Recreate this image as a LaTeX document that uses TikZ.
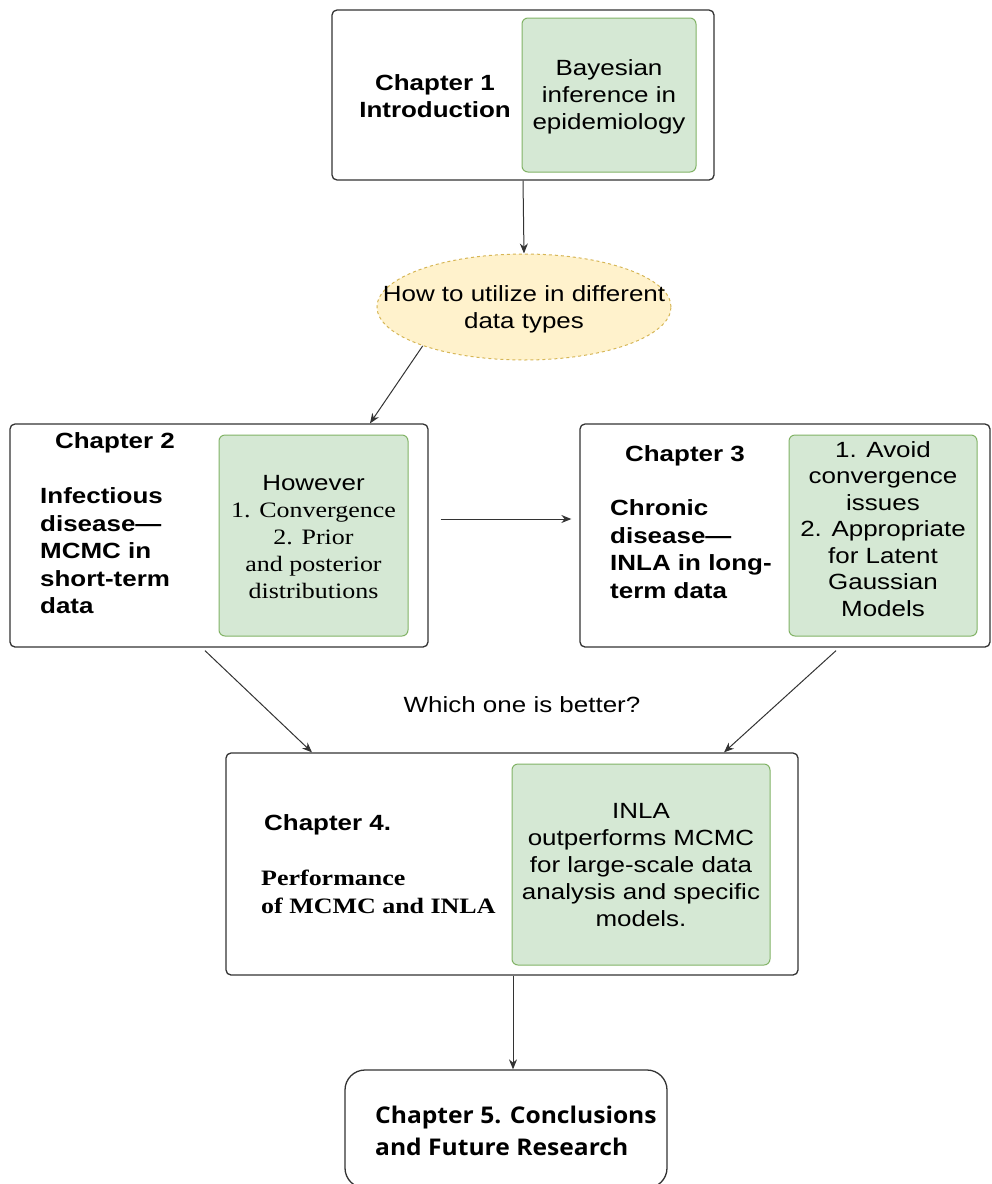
\documentclass[tikz,border=0pt]{standalone}
\usepackage{fontspec}
\usetikzlibrary{shapes.geometric,arrows.meta}
\newfontfamily\ar{Liberation Sans}[FakeStretch=1.18]
\newfontfamily\tm{Liberation Serif}[FakeStretch=1.18]
\newfontfamily\os{Open Sans}[FakeStretch=1.07]
\definecolor{gfill}{HTML}{D5E8D4}
\definecolor{gline}{HTML}{82B366}
\definecolor{yfill}{HTML}{FFF2CC}
\definecolor{yline}{HTML}{D6B656}
\definecolor{bline}{HTML}{333333}
\begin{document}
\begin{tikzpicture}[x=1pt,y=-1pt,
  chapbox/.style={draw=bline,line width=1.3pt,rounded corners=5pt,fill=white,inner sep=0pt},
  greenbox/.style={draw=gline,fill=gfill,line width=1pt,rounded corners=6pt,inner sep=0pt},
  ellbox/.style={ellipse,draw=yline,fill=yfill,dashed,line width=1pt,inner sep=0pt},
  txt/.style={inner sep=0pt,align=center,font={\ar\fontsize{22}{27}\selectfont},text=black},
  btxt/.style={inner sep=0pt,font={\ar\bfseries\fontsize{22}{27.5}\selectfont},text=black},
  arr/.style={draw=bline,line width=1pt,-{Stealth[length=10pt,width=8pt]}}]
\path[use as bounding box] (0,0) rectangle (992,1184);

% Chapter 1
\node[chapbox,minimum width=382pt,minimum height=170pt] (ch1) at (523,95) {};
\node[greenbox,minimum width=174pt,minimum height=154pt] (g1) at (609,95) {};
\node[btxt,align=center] (t1) at (435,96) {Chapter 1\\Introduction};
\node[txt] (tg1) at (609,97) {Bayesian\\inference in\\epidemiology};

% ellipse
\node[ellbox,minimum width=294pt,minimum height=106pt] (ell) at (524,307) {};
\node[txt] (tell) at (524,309) {How to utilize in different\\data types};

% Chapter 2
\node[chapbox,minimum width=418pt,minimum height=223pt] (ch2) at (219,535.5) {};
\node[greenbox,minimum width=189pt,minimum height=201pt] (g2) at (313.5,535.5) {};
\node[btxt] (t2a) at (115,443) {Chapter 2};
\node[btxt,align=left,anchor=west] (t2b) at (40,551) {Infectious\\disease—\\MCMC in\\short-term\\data};
\node[txt] (tg2) at (313.5,537) {However\\{\tm 1. Convergence}\\{\tm 2. Prior}\\{\tm and posterior}\\{\tm distributions}};

% Chapter 3
\node[chapbox,minimum width=410pt,minimum height=223pt] (ch3) at (785,535.5) {};
\node[greenbox,minimum width=188pt,minimum height=201pt] (g3) at (883,535.5) {};
\node[btxt] (t3a) at (685,456) {Chapter 3};
\node[btxt,align=left,anchor=west] (t3b) at (610,549) {Chronic\\disease—\\INLA in long-\\term data};
\node[txt,font={\ar\fontsize{22}{26.5}\selectfont}] (tg3) at (883,529) {1. Avoid\\convergence\\issues\\2. Appropriate\\for Latent\\Gaussian\\Models};

% question
\node[txt] (q) at (522,705) {Which one is better?};

% Chapter 4
\node[chapbox,minimum width=572pt,minimum height=222pt] (ch4) at (512,864) {};
\node[greenbox,minimum width=258pt,minimum height=201pt] (g4) at (641,864.5) {};
\node[btxt,anchor=west] (t4a) at (264,825) {Chapter 4.};
\node[inner sep=0pt,align=left,anchor=west,font={\tm\bfseries\fontsize{22}{27.5}\selectfont}] (t4b) at (261,892) {Performance\\of MCMC and INLA};
\node[txt] (tg4) at (641,865) {INLA\\outperforms MCMC\\for large-scale data\\analysis and specific\\models.};

% Chapter 5
\node[chapbox,rounded corners=20pt,minimum width=322pt,minimum height=118pt] (ch5) at (506,1129) {};
\node[inner sep=0pt,align=left,anchor=west,font={\os\bfseries\fontsize{23}{32}\selectfont}] (t5) at (375,1131) {Chapter 5. Conclusions\\and Future Research};

% connectors
\draw[arr] (ch1.south) -- (ell.north);
\draw[arr] (ell.-159) -- ([xshift=151pt]ch2.north);
\draw[arr] ([xshift=12pt,yshift=16.5pt]ch2.east) -- ([xshift=-8pt,yshift=16.5pt]ch3.west);
\draw[arr] ([xshift=-14pt,yshift=-3pt]ch2.south) -- ([xshift=-200pt]ch4.north);
\draw[arr] ([xshift=51pt,yshift=-3pt]ch3.south) -- ([xshift=212pt]ch4.north);
\draw[arr] ([xshift=1pt]ch4.south) -- ([xshift=1pt]ch4.south |- ch5.north);
\end{tikzpicture}
\end{document}
